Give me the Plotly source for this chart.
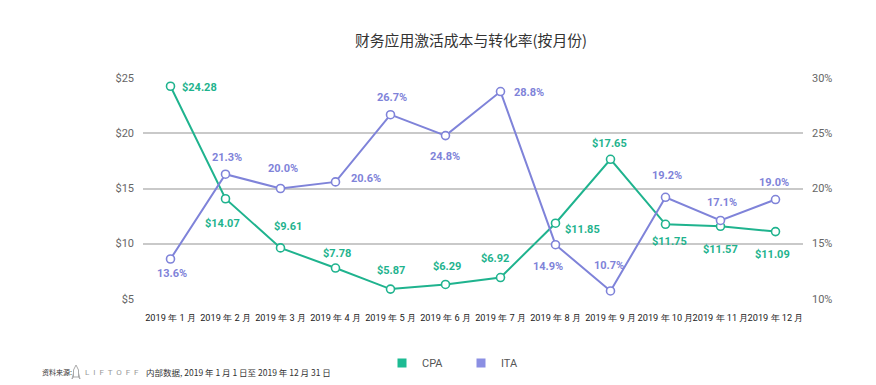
import plotly.graph_objects as go

months = ["2019 年 1 月", "2019 年 2 月", "2019 年 3 月", "2019 年 4 月", "2019 年 5 月", "2019 年 6 月",
          "2019 年 7 月", "2019 年 8 月", "2019 年 9 月", "2019 年 10 月", "2019 年 11 月", "2019 年 12 月"]
cpa = [24.28, 14.07, 9.61, 7.78, 5.87, 6.29, 6.92, 11.85, 17.65, 11.75, 11.57, 11.09]
ita = [13.6, 21.3, 20.0, 20.6, 26.7, 24.8, 28.8, 14.9, 10.7, 19.2, 17.1, 19.0]

# label offsets in pixels (dx right, dy down) relative to each point
cpa_off = [(29, 1), (-3, 25), (7, -21), (1, -15), (0, -19), (1, -18),
           (-6, -19), (27, 6), (-1, -16), (4, 17), (0, 23), (-3, 23)]
ita_off = [(1, 14), (1, -17), (2, -20), (30, -3), (1, -17), (-1, 21),
           (28, 1), (-8, 22), (-2, -25), (1, -22), (1, -18), (-2, -17)]

GREEN = "#1fb38e"
BLUE = "#7f83d9"
FONT = "Noto Sans CJK SC"

fig = go.Figure()
fig.add_trace(go.Scatter(
    x=months, y=cpa, mode="lines+markers", name="CPA", showlegend=False,
    line=dict(color=GREEN, width=2),
    marker=dict(size=8, color="white", line=dict(color=GREEN, width=1.6)),
    cliponaxis=False,
))
fig.add_trace(go.Scatter(
    x=months, y=ita, mode="lines+markers", name="ITA", showlegend=False, yaxis="y2",
    line=dict(color=BLUE, width=2),
    marker=dict(size=8, color="white", line=dict(color=BLUE, width=1.6)),
    cliponaxis=False,
))
# legend entries
fig.add_trace(go.Scatter(x=[None], y=[None], mode="markers", name="CPA",
                         marker=dict(symbol="square", size=9, color="#1dbb93")))
fig.add_trace(go.Scatter(x=[None], y=[None], mode="markers", name="ITA",
                         marker=dict(symbol="square", size=9, color="#8b8fe3")))

for m, v, (dx, dy) in zip(months, cpa, cpa_off):
    fig.add_annotation(x=m, y=v, xref="x", yref="y", text="<b>$%.2f</b>" % v, showarrow=False,
                       xshift=dx, yshift=-dy, font=dict(size=11, color=GREEN, family="Roboto"))
for m, v, (dx, dy) in zip(months, ita, ita_off):
    fig.add_annotation(x=m, y=v, xref="x", yref="y2", text="<b>%.1f%%</b>" % v, showarrow=False,
                       xshift=dx, yshift=-dy, font=dict(size=11, color=BLUE, family="Roboto"))

fig.update_layout(
    width=876, height=385,
    margin=dict(l=135, r=81, t=70, b=94, autoexpand=False),
    paper_bgcolor="white", plot_bgcolor="white",
    font=dict(family=FONT, color="#333"),
    title=dict(text="财务应用激活成本与转化率(按月份)", x=463 / 876, xanchor="center",
               y=1 - 33 / 385, yanchor="middle", font=dict(size=14.8, color="#333", family=FONT)),
    xaxis=dict(type="category", range=[-0.5, 11.5], showgrid=False, showline=False, ticks="",
               tickfont=dict(size=9.2, color="#222", family="Roboto"), tickangle=0, ticklabelstandoff=12),
    yaxis=dict(range=[4.97, 25.03], tickvals=[5, 10, 15, 20, 25], ticktext=["$5", "$10", "$15", "$20", "$25"],
               showgrid=True, gridcolor="#c9c9c9", gridwidth=1.5, zeroline=False, showline=False,
               tickfont=dict(size=11, color="#666", family="Roboto"), ticklabelstandoff=8),
    yaxis2=dict(range=[9.97, 30.03], overlaying="y", side="right", tickvals=[10, 15, 20, 25, 30],
                ticktext=["10%", "15%", "20%", "25%", "30%"], showgrid=False, zeroline=False, showline=False,
                tickfont=dict(size=11, color="#666", family="Roboto"), ticklabelstandoff=8),
)

def px(x):
    return (x - 143) / 660

def py(y):
    return (299 - y) / 221

fig.update_layout(legend=dict(orientation="h", x=px(382), xanchor="left", y=py(363), yanchor="middle",
                              entrywidth=34, font=dict(size=11, color="#555", family="Roboto")))

fig.add_annotation(x=px(40), y=py(372), xref="paper", yref="paper", xanchor="left", yanchor="middle",
                   text="资料来源:", showarrow=False, font=dict(size=7, color="#333", family=FONT))
fig.add_annotation(x=px(83), y=py(372), xref="paper", yref="paper", xanchor="left", yanchor="middle",
                   text="L  I  F  T  O  F  F", showarrow=False, font=dict(size=8, color="#999", family="Roboto"))
fig.add_annotation(x=px(144), y=py(372), xref="paper", yref="paper", xanchor="left", yanchor="middle",
                   text="内部数据, 2019 年 1 月 1 日至 2019 年 12 月 31 日", showarrow=False,
                   font=dict(size=8.5, color="#333", family=FONT))
# small rocket logo outline
fig.add_shape(type="path", xref="paper", yref="paper",
              path="M %f,%f L %f,%f L %f,%f L %f,%f L %f,%f Z" % (
                  px(76), py(365), px(78.5), py(370), px(78.5), py(377), px(73.5), py(377), px(73.5), py(370)),
              line=dict(color="#aaa", width=1), fillcolor="rgba(0,0,0,0)")
fig.add_shape(type="path", xref="paper", yref="paper",
              path="M %f,%f L %f,%f L %f,%f Z M %f,%f L %f,%f L %f,%f Z" % (
                  px(73.5), py(373), px(72), py(379), px(73.5), py(377),
                  px(78.5), py(373), px(80), py(379), px(78.5), py(377)),
              line=dict(color="#aaa", width=1), fillcolor="rgba(0,0,0,0)")

fig.write_html("out.html")
